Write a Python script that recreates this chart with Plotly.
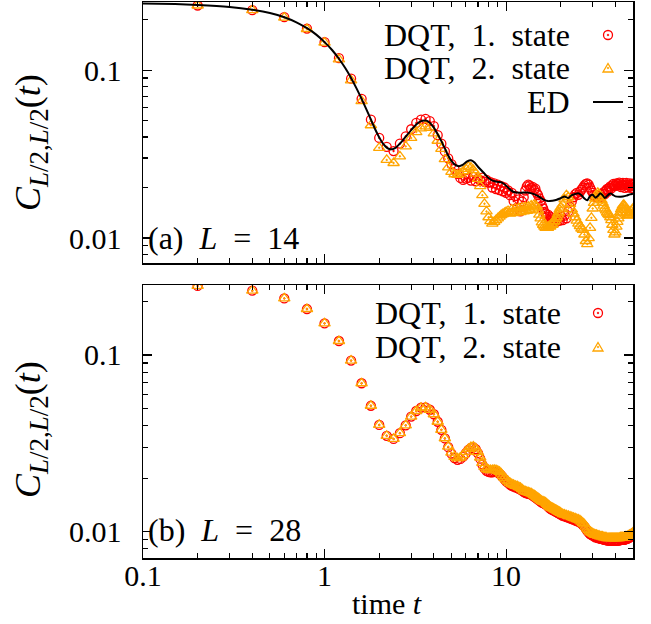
import plotly.graph_objects as go

# ---------------- data ----------------
# sampling times of the DQT data (dt = 0.2 up to 10, then coarser)
TIME = ([round(0.2 * k, 2) for k in range(1, 51)]
        + [round(10 + 0.25 * k, 2) for k in range(1, 41)]
        + [round(20 + 0.5 * k, 2) for k in range(1, 61)])

# panel (a) L = 14, DQT first state
A_DQT1 = [
    0.243, 0.228, 0.207, 0.177, 0.147, 0.118, 0.089, 0.0675, 0.0508, 0.0395,
    0.0349, 0.0330, 0.0365, 0.0404, 0.0445, 0.0485, 0.0508, 0.0513, 0.0497, 0.0465,
    0.0410, 0.0365, 0.0328, 0.0298, 0.0276, 0.0258, 0.0241, 0.0228, 0.0222, 0.0226,
    0.0228, 0.0220, 0.0232, 0.0218, 0.0226, 0.0221, 0.0229, 0.0216, 0.0222, 0.0214,
    0.0215, 0.0200, 0.0212, 0.0196, 0.0208, 0.0193, 0.0204, 0.0190, 0.0200, 0.0186,
    0.0192, 0.0180, 0.0186, 0.0166, 0.0178, 0.0152, 0.0170, 0.0144, 0.0165, 0.0175,
    0.0192, 0.0203, 0.0208, 0.0205, 0.0198, 0.0202, 0.0194, 0.0197, 0.0186, 0.0180,
    0.0172, 0.0166, 0.0156, 0.0150, 0.0143, 0.0140, 0.0134, 0.0138, 0.0128, 0.0134,
    0.0125, 0.0131, 0.0123, 0.0129, 0.0124, 0.0130, 0.0126, 0.0132, 0.0127, 0.0134,
    0.0128, 0.0136, 0.0131, 0.0144, 0.0153, 0.0165, 0.0175, 0.0182, 0.0186, 0.0181,
    0.0188, 0.0194, 0.0200, 0.0206, 0.0210, 0.0212, 0.0208, 0.0200, 0.0192, 0.0186,
    0.0180, 0.0176, 0.0181, 0.0174, 0.0178, 0.0182, 0.0176, 0.0184, 0.0188, 0.0183,
    0.0192, 0.0196, 0.0190, 0.0199, 0.0203, 0.0198, 0.0206, 0.0210, 0.0204, 0.0207,
    0.0212, 0.0205, 0.0210, 0.0214, 0.0206, 0.0201, 0.0209, 0.0213, 0.0205, 0.0199,
    0.0208, 0.0213, 0.0207, 0.0200, 0.0206, 0.0212, 0.0204, 0.0199, 0.0207, 0.0211,
]

# panel (a) L = 14, DQT second state
A_DQT2 = [
    0.243, 0.228, 0.206, 0.176, 0.146, 0.116, 0.087, 0.0655, 0.0470, 0.0345,
    0.0292, 0.0280, 0.0307, 0.0352, 0.0395, 0.0428, 0.0450, 0.0463, 0.0453, 0.0420,
    0.0380, 0.0340, 0.0295, 0.0264, 0.0248, 0.0240, 0.0238, 0.0242, 0.0250, 0.0258,
    0.0266, 0.0263, 0.0254, 0.0242, 0.0225, 0.0204, 0.0180, 0.0160, 0.0144, 0.0133,
    0.0126, 0.0122, 0.0125, 0.0128, 0.0131, 0.0134, 0.0137, 0.0139, 0.0141, 0.0143,
    0.0145, 0.0140, 0.0148, 0.0141, 0.0150, 0.0142, 0.0151, 0.0143, 0.0152, 0.0144,
    0.0153, 0.0145, 0.0154, 0.0147, 0.0156, 0.0150, 0.0158, 0.0156, 0.0154, 0.0146,
    0.0138, 0.0131, 0.0124, 0.0120, 0.0117, 0.0115, 0.0117, 0.0115, 0.0118, 0.0117,
    0.0121, 0.0120, 0.0124, 0.0126, 0.0130, 0.0133, 0.0138, 0.0142, 0.0148, 0.0152,
    0.0158, 0.0170, 0.0180, 0.0175, 0.0160, 0.0148, 0.0140, 0.0133, 0.0127, 0.0122,
    0.0118, 0.0114, 0.0112, 0.0105, 0.0096, 0.0092, 0.0100, 0.0115, 0.0132, 0.0150,
    0.0162, 0.0172, 0.0180, 0.0186, 0.0182, 0.0176, 0.0168, 0.0162, 0.0156, 0.0150,
    0.0146, 0.0142, 0.0139, 0.0137, 0.0133, 0.0128, 0.0120, 0.0112, 0.0105, 0.0108,
    0.0117, 0.0125, 0.0131, 0.0136, 0.0142, 0.0148, 0.0152, 0.0156, 0.0158, 0.0154,
    0.0147, 0.0141, 0.0137, 0.0136, 0.0138, 0.0137, 0.0140, 0.0144, 0.0147, 0.0150,
]

# panel (a) exact diagonalization
ED_TIME = [
    0.1, 0.15, 0.2, 0.3, 0.4, 0.5, 0.6, 0.7, 0.8, 0.9,
    1.0, 1.1, 1.2, 1.3, 1.4, 1.5, 1.6, 1.7, 1.8, 1.9,
    2.0, 2.1, 2.2, 2.3, 2.4, 2.5, 2.6, 2.8, 3.0, 3.2,
    3.4, 3.6, 3.8, 4.0, 4.2, 4.4, 4.6, 4.8, 5.0, 5.2,
    5.5, 5.8, 6.1, 6.4, 6.7, 7.0, 7.5, 8.0, 8.5, 9.0,
    9.5, 10, 10.5, 11, 12, 13, 14, 15, 16, 17,
    18, 19, 20, 21, 22, 23, 24, 25, 26, 27,
    28, 29, 30, 31, 32, 33, 34, 35, 36, 37,
    38, 39, 40, 42, 44, 46, 48, 50,
]
ED_C = [
    0.250, 0.248, 0.245, 0.238, 0.229, 0.219, 0.207, 0.193, 0.178, 0.163,
    0.147, 0.132, 0.117, 0.103, 0.090, 0.078, 0.0675, 0.0585, 0.0508, 0.0445,
    0.0398, 0.0365, 0.0346, 0.0338, 0.0340, 0.0350, 0.0365, 0.0402, 0.0440, 0.0475,
    0.0497, 0.0501, 0.0487, 0.0455, 0.0415, 0.0378, 0.0342, 0.0310, 0.0288, 0.0275,
    0.0268, 0.0274, 0.0286, 0.0291, 0.0282, 0.0266, 0.0246, 0.0228, 0.0219, 0.0216,
    0.0214, 0.0205, 0.0195, 0.0188, 0.0186, 0.0187, 0.0184, 0.0178, 0.0170, 0.0166,
    0.0167, 0.0169, 0.0173, 0.0177, 0.0173, 0.0180, 0.0183, 0.0185, 0.0180, 0.0172,
    0.0168, 0.0178, 0.0181, 0.0174, 0.0178, 0.0185, 0.0180, 0.0173, 0.0178, 0.0183,
    0.0184, 0.0180, 0.0177, 0.0176, 0.0177, 0.0179, 0.0182, 0.0184,
]

# panel (b) L = 28, DQT first state
B_DQT1 = [
    0.246, 0.231, 0.209, 0.182, 0.151, 0.120, 0.093, 0.0692, 0.0516, 0.0402,
    0.0349, 0.0335, 0.0361, 0.0400, 0.0448, 0.0482, 0.0503, 0.0505, 0.0490, 0.0462,
    0.0419, 0.0377, 0.0337, 0.0301, 0.0277, 0.0261, 0.0255, 0.0258, 0.0266, 0.0278,
    0.0290, 0.0298, 0.0300, 0.0293, 0.0278, 0.0259, 0.0240, 0.0228, 0.0221, 0.0218,
    0.0217, 0.0217, 0.0218, 0.0218, 0.0216, 0.0213, 0.0208, 0.0203, 0.0198, 0.0193,
    0.0189, 0.0185, 0.0182, 0.0180, 0.0178, 0.0177, 0.0175, 0.0173, 0.0171, 0.0168,
    0.0166, 0.0165, 0.0164, 0.0163, 0.0162, 0.0160, 0.0158, 0.0156, 0.0154, 0.0152,
    0.0150, 0.0148, 0.0146, 0.0145, 0.0144, 0.0143, 0.0141, 0.0139, 0.0137, 0.0135,
    0.0134, 0.0133, 0.0132, 0.0131, 0.0130, 0.0129, 0.0128, 0.0127, 0.0126, 0.0125,
    0.0123, 0.0122, 0.0121, 0.0120, 0.0119, 0.0118, 0.0117, 0.0116, 0.0115, 0.0114,
    0.0113, 0.0111, 0.0109, 0.0107, 0.0104, 0.0101, 0.0099, 0.0097, 0.0096, 0.0095,
    0.0094, 0.0093, 0.0093, 0.0092, 0.0092, 0.0091, 0.0091, 0.0091, 0.0090, 0.0090,
    0.0090, 0.0089, 0.0089, 0.0089, 0.0089, 0.0089, 0.0089, 0.0089, 0.0089, 0.0089,
    0.0089, 0.0089, 0.0089, 0.0089, 0.0090, 0.0090, 0.0090, 0.0090, 0.0090, 0.0090,
    0.0091, 0.0091, 0.0091, 0.0092, 0.0092, 0.0093, 0.0094, 0.0095, 0.0096, 0.0098,
]

# panel (b) L = 28, DQT second state
B_DQT2 = [
    0.246, 0.231, 0.209, 0.182, 0.151, 0.120, 0.093, 0.0692, 0.0516, 0.0402,
    0.0349, 0.0335, 0.0361, 0.0400, 0.0448, 0.0482, 0.0503, 0.0505, 0.0490, 0.0462,
    0.0419, 0.0377, 0.0338, 0.0303, 0.0280, 0.0265, 0.0260, 0.0263, 0.0271, 0.0283,
    0.0294, 0.0301, 0.0303, 0.0296, 0.0282, 0.0263, 0.0245, 0.0233, 0.0227, 0.0224,
    0.0223, 0.0223, 0.0224, 0.0223, 0.0221, 0.0218, 0.0213, 0.0207, 0.0202, 0.0197,
    0.0193, 0.0189, 0.0186, 0.0184, 0.0182, 0.0181, 0.0179, 0.0177, 0.0174, 0.0171,
    0.0169, 0.0168, 0.0167, 0.0166, 0.0165, 0.0163, 0.0161, 0.0159, 0.0157, 0.0155,
    0.0153, 0.0151, 0.0149, 0.0148, 0.0147, 0.0146, 0.0144, 0.0142, 0.0140, 0.0138,
    0.0137, 0.0136, 0.0135, 0.0134, 0.0133, 0.0132, 0.0131, 0.0130, 0.0129, 0.0128,
    0.0126, 0.0125, 0.0124, 0.0123, 0.0122, 0.0121, 0.0120, 0.0119, 0.0118, 0.0117,
    0.0116, 0.0114, 0.0112, 0.0110, 0.0107, 0.0104, 0.0102, 0.0100, 0.0099, 0.0098,
    0.0097, 0.0096, 0.0096, 0.0095, 0.0095, 0.0094, 0.0094, 0.0094, 0.0093, 0.0093,
    0.0093, 0.0092, 0.0092, 0.0092, 0.0092, 0.0092, 0.0092, 0.0092, 0.0092, 0.0092,
    0.0092, 0.0092, 0.0092, 0.0092, 0.0093, 0.0093, 0.0093, 0.0093, 0.0093, 0.0093,
    0.0094, 0.0094, 0.0094, 0.0095, 0.0095, 0.0096, 0.0096, 0.0097, 0.0098, 0.0099,
]

X_TICKS = [0.1, 1, 10]
X_TICK_TEXT = ["0.1", "1", "10"]
Y_TICKS = [0.01, 0.1]
Y_TICK_TEXT = ["0.01", "0.1"]
X_MINOR = [0.2, 0.3, 0.4, 0.5, 0.6, 0.7, 0.8, 0.9, 2, 3, 4, 5, 6, 7, 8, 9, 20, 30, 40, 50]
Y_MINOR = [0.008, 0.009, 0.02, 0.03, 0.04, 0.05, 0.06, 0.07, 0.08, 0.09, 0.2]

LEG_TEXT = ["DQT, 1. state", "DQT, 2. state", "ED"]

# ---------------- styling / geometry ----------------
W, H = 651, 624
ML, MR, MT, MB = 143, 18, 2, 66
PW, PH = W - ML - MR, H - MT - MB
RED, ORANGE = "#ff0000", "#ffa500"
FONT = "Liberation Serif"


def px(xp):
    return (xp - ML) / PW


def py(yp):
    return (H - MB - yp) / PH


TOP_DOM = [py(263), 1.0]
BOT_DOM = [0.0, py(285)]

fig = go.Figure()

mk_c = dict(symbol="circle-open-dot", size=9, color=RED, line=dict(width=1.3, color=RED))
mk_t = dict(symbol="triangle-up-open-dot", size=10, color=ORANGE, line=dict(width=1.3, color=ORANGE))

fig.add_trace(go.Scatter(x=TIME, y=A_DQT1, mode="markers", marker=mk_c, name=LEG_TEXT[0],
                         xaxis="x", yaxis="y", showlegend=False))
fig.add_trace(go.Scatter(x=TIME, y=A_DQT2, mode="markers", marker=mk_t, name=LEG_TEXT[1],
                         xaxis="x", yaxis="y", showlegend=False))
fig.add_trace(go.Scatter(x=ED_TIME, y=ED_C, mode="lines",
                         line=dict(color="black", width=2, shape="spline", smoothing=0.6),
                         name=LEG_TEXT[2], xaxis="x", yaxis="y", showlegend=False))
fig.add_trace(go.Scatter(x=TIME, y=B_DQT1, mode="markers", marker=mk_c, name=LEG_TEXT[0],
                         xaxis="x2", yaxis="y2", showlegend=False))
fig.add_trace(go.Scatter(x=TIME, y=B_DQT2, mode="markers", marker=mk_t, name=LEG_TEXT[1],
                         xaxis="x2", yaxis="y2", showlegend=False))

tickfont = dict(family=FONT, size=30, color="black")
common_x = dict(type="log", range=[-1, 1.69897], showgrid=False, zeroline=False, automargin=False,
                showline=True, linecolor="black", linewidth=1.5, mirror="allticks",
                ticks="inside", ticklen=9, tickwidth=1.2, tickcolor="black",
                tickmode="array", tickvals=X_TICKS, ticktext=X_TICK_TEXT, tickfont=tickfont,
                minor=dict(tickmode="array", tickvals=X_MINOR, ticks="inside", ticklen=5,
                           tickwidth=1.2, tickcolor="black", showgrid=False))
common_y = dict(type="log", showgrid=False, zeroline=False, automargin=False,
                showline=True, linecolor="black", linewidth=1.5, mirror="allticks",
                ticks="inside", ticklen=9, tickwidth=1.2, tickcolor="black",
                tickmode="array", tickvals=Y_TICKS, ticktext=Y_TICK_TEXT, tickfont=tickfont,
                ticklabelstandoff=14,
                minor=dict(tickmode="array", tickvals=Y_MINOR, ticks="inside", ticklen=5,
                           tickwidth=1.2, tickcolor="black", showgrid=False))

fig.update_layout(
    width=W, height=H,
    margin=dict(l=ML, r=MR, t=MT, b=MB),
    paper_bgcolor="white", plot_bgcolor="white",
    font=dict(family=FONT, color="black"),
    xaxis=dict(common_x, anchor="y", domain=[0, 1], showticklabels=False),
    yaxis=dict(common_y, anchor="x", domain=TOP_DOM, range=[-2.1487, -0.5935]),
    xaxis2=dict(common_x, anchor="y2", domain=[0, 1], ticklabelstandoff=-10),
    yaxis2=dict(common_y, anchor="x2", domain=BOT_DOM, range=[-2.1487, -0.604]),
)

ann = []
# axis titles
ytitle = ("<i>C</i><sub><span style='font-size:27px'><i>L</i>/2,<i>L</i>/2</span></sub>(<i>t</i>)")
ann.append(dict(x=px(31), y=py(143), xref="paper", yref="paper", text=ytitle, textangle=-90,
                showarrow=False, font=dict(family=FONT, size=36), xanchor="center", yanchor="middle"))
ann.append(dict(x=px(31), y=py(430), xref="paper", yref="paper", text=ytitle, textangle=-90,
                showarrow=False, font=dict(family=FONT, size=36), xanchor="center", yanchor="middle"))
ann.append(dict(x=px(387), y=py(603), xref="paper", yref="paper", text="time <i>t</i>",
                showarrow=False, font=dict(family=FONT, size=30), xanchor="center", yanchor="middle"))
# panel labels
ann.append(dict(x=px(146), y=py(238), xref="paper", yref="paper",
                text="(a)&nbsp;&nbsp;<i>L</i>&nbsp;&nbsp;=&nbsp;&nbsp;14",
                showarrow=False, font=dict(family=FONT, size=32), xanchor="left", yanchor="middle"))
ann.append(dict(x=px(146), y=py(530), xref="paper", yref="paper",
                text="(b)&nbsp;&nbsp;<i>L</i>&nbsp;&nbsp;=&nbsp;&nbsp;28",
                showarrow=False, font=dict(family=FONT, size=32), xanchor="left", yanchor="middle"))

shapes = []


def leg_circle(cx, cy, r=4.5):
    shapes.append(dict(type="circle", xref="paper", yref="paper",
                       x0=px(cx - r), x1=px(cx + r), y0=py(cy + r), y1=py(cy - r),
                       line=dict(color=RED, width=1.3)))
    shapes.append(dict(type="circle", xref="paper", yref="paper",
                       x0=px(cx - 0.8), x1=px(cx + 0.8), y0=py(cy + 0.8), y1=py(cy - 0.8),
                       line=dict(color=RED, width=0.8), fillcolor=RED))


def leg_triangle(cx, cy, s=5):
    path = "M {:.5f},{:.5f} L {:.5f},{:.5f} L {:.5f},{:.5f} Z".format(
        px(cx - s), py(cy + s * 0.8), px(cx + s), py(cy + s * 0.8), px(cx), py(cy - s * 0.9))
    shapes.append(dict(type="path", xref="paper", yref="paper", path=path,
                       line=dict(color=ORANGE, width=1.3)))
    shapes.append(dict(type="circle", xref="paper", yref="paper",
                       x0=px(cx - 0.8), x1=px(cx + 0.8), y0=py(cy + 0.8), y1=py(cy - 0.8),
                       line=dict(color=ORANGE, width=0.8), fillcolor=ORANGE))


LEG_SHOWN = ["DQT,&nbsp; 1.&nbsp; state", "DQT,&nbsp; 2.&nbsp; state", "ED"]
# legend, panel (a)
for txt, yy in zip(LEG_SHOWN, [35, 68, 102]):
    ann.append(dict(x=px(572), y=py(yy), xref="paper", yref="paper", text=txt, showarrow=False,
                    font=dict(family=FONT, size=32), xanchor="right", yanchor="middle"))
leg_circle(608, 35)
leg_triangle(608, 68)
shapes.append(dict(type="line", xref="paper", yref="paper", x0=px(593), x1=px(623),
                   y0=py(102), y1=py(102), line=dict(color="black", width=2)))
# legend, panel (b)
for txt, yy in zip(LEG_SHOWN[:2], [313, 347]):
    ann.append(dict(x=px(563), y=py(yy), xref="paper", yref="paper", text=txt, showarrow=False,
                    font=dict(family=FONT, size=32), xanchor="right", yanchor="middle"))
leg_circle(598, 313)
leg_triangle(598, 347)

fig.update_layout(annotations=ann, shapes=shapes)
fig.write_html("out.html", config={"displayModeBar": False, "staticPlot": True})

# remove the browser's default page margin so the figure sits at the top-left corner
with open("out.html", encoding="utf-8") as f:
    html = f.read()
html = html.replace("<head>", "<head><style>html,body{margin:0;padding:0;overflow:hidden;}</style>", 1)
with open("out.html", "w", encoding="utf-8") as f:
    f.write(html)
